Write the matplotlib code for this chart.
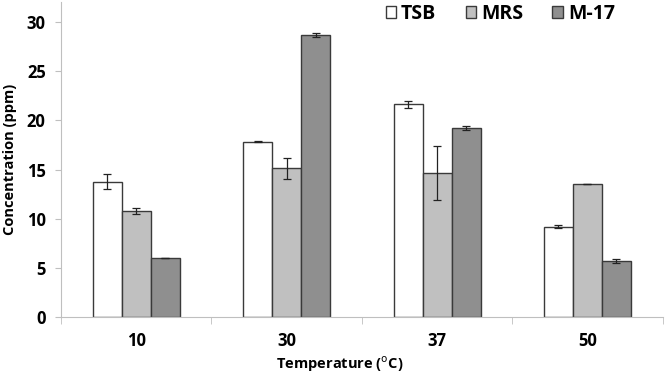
import matplotlib.pyplot as plt
import numpy as np

plt.rcParams["font.family"] = ["Open Sans", "DejaVu Sans"]

temps = ["10", "30", "37", "50"]
series = ["TSB", "MRS", "M-17"]
tsb = [13.75, 17.83, 21.63, 9.2]
tsb_err = [0.75, 0.05, 0.35, 0.2]
mrs = [10.78, 15.13, 14.65, 13.48]
mrs_err = [0.3, 1.05, 2.78, 0.0]
m17 = [6.0, 28.7, 19.2, 5.73]
m17_err = [0.02, 0.2, 0.2, 0.2]

colors = ["#ffffff", "#c0c0c0", "#8f8f8f"]

fig = plt.figure(figsize=(6.66, 3.75), dpi=100)
ax = fig.add_axes([0.0916, 0.1547, 0.9034, 0.839])

x = np.arange(len(temps))
w = 0.193
vals = [tsb, mrs, m17]
errs = [tsb_err, mrs_err, m17_err]
for i in range(3):
    ax.bar(x + (i - 1) * w, vals[i], w, color=colors[i], edgecolor="#3a3a3a",
           linewidth=1.0, label=series[i], zorder=2)
    ax.errorbar(x + (i - 1) * w, vals[i], yerr=errs[i], fmt="none", ecolor="#222222",
                elinewidth=0.9, capsize=3, capthick=0.9, zorder=3)

ax.set_xlim(-0.5, 3.5)
ax.set_ylim(0, 32)
ax.set_yticks(range(0, 31, 5))
ax.set_xticks(x)
ax.set_xticklabels(temps)
ax.set_xticks(np.arange(-0.5, 3.6, 1), minor=True)
ax.tick_params(axis="x", which="major", length=0, pad=11)
ax.tick_params(axis="x", which="minor", length=5, color="#bfbfbf", direction="out")
ax.tick_params(axis="y", length=4, color="#bfbfbf", pad=7)
for lab in ax.get_xticklabels() + ax.get_yticklabels():
    lab.set_fontweight("bold")
    lab.set_fontsize(12)

for s in ["top", "right"]:
    ax.spines[s].set_visible(False)
for s in ["left", "bottom"]:
    ax.spines[s].set_color("#bfbfbf")

ax.set_ylabel("Concentration (ppm)", fontsize=10.5, fontweight="bold", labelpad=7)
ax.set_xlabel("Temperature ($^{\\mathrm{o}}$C)", fontsize=10.5, fontweight="bold")
ax.xaxis.set_label_coords(0.464, -0.12)

ax.legend(loc="upper center", bbox_to_anchor=(0.73, 1.05), ncol=3, frameon=False,
          prop={"weight": "bold", "size": 14}, handlelength=0.55, handleheight=0.55,
          columnspacing=1.5, handletextpad=0.25)

fig.savefig("out.png", dpi=100)
